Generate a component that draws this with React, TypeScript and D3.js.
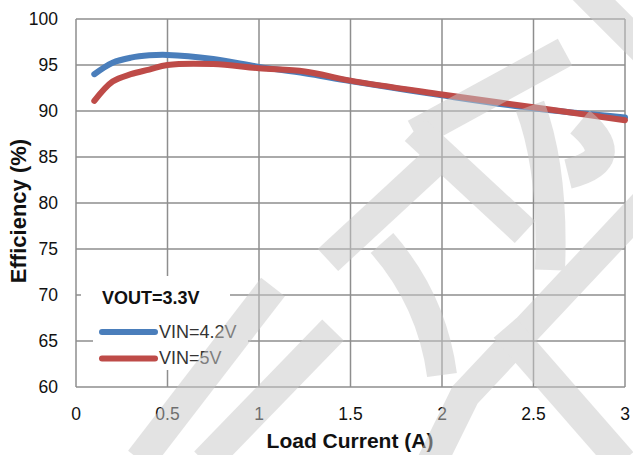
import React from "react";
import * as d3 from "d3";

const loadCurrent = [0.1, 0.2, 0.3, 0.4, 0.5, 0.75, 1.0, 1.25, 1.5, 2.0, 2.5, 3.0];
const vin42 = [94.0, 95.25, 95.8, 96.05, 96.1, 95.65, 94.8, 94.1, 93.25, 91.7, 90.3, 89.3];
const vin5 = [91.1, 93.2, 94.0, 94.5, 95.0, 95.1, 94.65, 94.3, 93.3, 91.8, 90.4, 89.0];
const xTicks = [0, 0.5, 1, 1.5, 2, 2.5, 3];
const yTicks = [60, 65, 70, 75, 80, 85, 90, 95, 100];
const seriesNames = ["VIN=4.2V", "VIN=5V"];
const seriesColors = ["#4a7ebb", "#be4b48"];

// decorative watermark strokes (background logo)
const watermark = [
  "M580,-14 L652,58",
  "M565,52 L415,134",
  "M415,130 L525,232",
  "M530,106 Q554,170 550,270",
  "M580,122 Q625,160 568,174",
  "M447,150 L328,260",
  "M382,243 Q432,300 442,375",
  "M648,200 L465,395 L432,462",
  "M505,328 L622,462",
  "M273,287 L140,460",
  "M333,330 L205,462",
];

export default function App() {
  const W = 633, H = 455;
  const x = d3.scaleLinear().domain([0, 3]).range([76, 625]);
  const y = d3.scaleLinear().domain([60, 100]).range([387, 19]);
  const line = d3
    .line<number>()
    .x((_, i) => x(loadCurrent[i]))
    .y((d) => y(d))
    .curve(d3.curveCatmullRom.alpha(0.5));
  const series = [vin42, vin5];
  const font = "Arial, 'Liberation Sans', sans-serif";
  return (
    <svg width={W} height={H} style={{ position: "absolute", left: 0, top: 0, background: "#fff" }} fontFamily={font}>
      <rect x={0} y={0} width={W} height={H} fill="#fff" />
      {/* grid */}
      {yTicks.map((t) => (
        <line key={"gy" + t} x1={x(0)} x2={x(3)} y1={y(t)} y2={y(t)} stroke="#8e8e8e" strokeWidth={1.5} />
      ))}
      {xTicks.map((t) => (
        <line key={"gx" + t} x1={x(t)} x2={x(t)} y1={y(60)} y2={y(100)} stroke="#8e8e8e" strokeWidth={1.5} />
      ))}
      {/* tick labels */}
      {yTicks.map((t) => (
        <text key={"ty" + t} x={58} y={y(t) + 6} textAnchor="end" fontSize={17.5} fill="#111">
          {t}
        </text>
      ))}
      {xTicks.map((t) => (
        <text key={"tx" + t} x={x(t)} y={420} textAnchor="middle" fontSize={17.5} fill="#111">
          {t}
        </text>
      ))}
      <text x={350} y={448} textAnchor="middle" fontSize={21} fontWeight="bold" fill="#111">
        Load Current (A)
      </text>
      <text transform="translate(26,211) rotate(-90)" textAnchor="middle" fontSize={22} fontWeight="bold" fill="#111">
        Efficiency (%)
      </text>
      {/* series */}
      {series.map((s, i) => (
        <path key={"s" + i} d={line(s) || ""} fill="none" stroke={seriesColors[i]} strokeWidth={6} strokeLinecap="round" strokeLinejoin="round" />
      ))}
      {/* legend */}
      <rect x={81} y={276} width={149} height={44} fill="#fff" />
      <rect x={93} y={318} width={155} height={52} fill="#fff" />
      <text x={102} y={304} fontSize={18} fontWeight="bold" fill="#111">
        VOUT=3.3V
      </text>
      {seriesNames.map((n, i) => (
        <g key={"l" + i}>
          <line x1={102} x2={155} y1={332 + i * 26.5} y2={332 + i * 26.5} stroke={seriesColors[i]} strokeWidth={6} strokeLinecap="round" />
          <text x={159} y={338 + i * 26} fontSize={18} fill="#333">
            {n}
          </text>
        </g>
      ))}
      {/* watermark */}
      <g fill="none" stroke="#c8c8c8" opacity={0.5} strokeWidth={30}>
        {watermark.map((d, i) => (
          <path key={"w" + i} d={d} />
        ))}
      </g>
    </svg>
  );
}
